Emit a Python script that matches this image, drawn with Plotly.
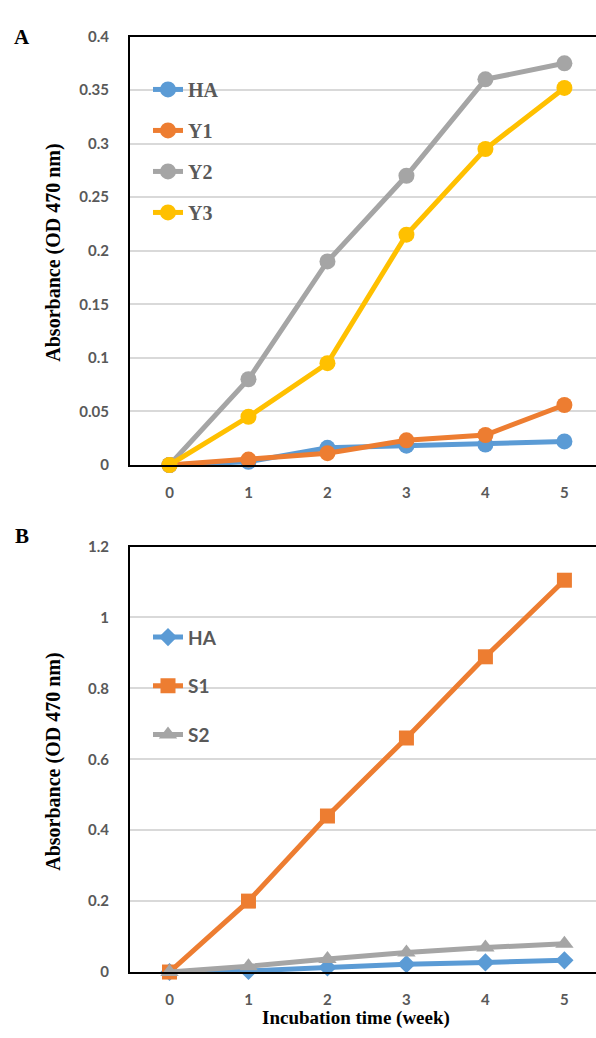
import plotly.graph_objects as go

weeks = [0, 1, 2, 3, 4, 5]
week_labels = ["0", "1", "2", "3", "4", "5"]

# Panel A
a_HA = [0, 0.003, 0.016, 0.018, 0.019, 0.022]
a_Y1 = [0, 0.005, 0.011, 0.023, 0.028, 0.056]
a_Y2 = [0, 0.080, 0.190, 0.270, 0.360, 0.375]
a_Y3 = [0, 0.045, 0.095, 0.215, 0.295, 0.352]
a_ticks = [0, 0.05, 0.1, 0.15, 0.2, 0.25, 0.3, 0.35, 0.4]
a_ticktext = ["0", "0.05", "0.1", "0.15", "0.2", "0.25", "0.3", "0.35", "0.4"]

# Panel B
b_HA = [0, 0.003, 0.013, 0.022, 0.027, 0.033]
b_S1 = [0, 0.200, 0.440, 0.660, 0.889, 1.105]
b_S2 = [0, 0.016, 0.037, 0.055, 0.069, 0.080]
b_ticks = [0, 0.2, 0.4, 0.6, 0.8, 1.0, 1.2]
b_ticktext = ["0", "0.2", "0.4", "0.6", "0.8", "1", "1.2"]

BLUE, ORANGE, GRAY, YELLOW = "#5B9BD5", "#ED7D31", "#A5A5A5", "#FFC000"
W, H = 596, 1038
def py(p):
    return 1 - p / H

fig = go.Figure()

def add(x, y, name, color, symbol, size, xa, ya, legend):
    fig.add_trace(go.Scatter(
        x=x, y=y, name=name, mode="lines+markers",
        line=dict(color=color, width=5),
        marker=dict(color=color, symbol=symbol, size=size),
        xaxis=xa, yaxis=ya, legend=legend, legendgroup=name + legend,
        cliponaxis=False))

add(weeks, a_HA, "HA", BLUE, "circle", 16, "x", "y", "legend")
add(weeks, a_Y1, "Y1", ORANGE, "circle", 16, "x", "y", "legend")
add(weeks, a_Y2, "Y2", GRAY, "circle", 16, "x", "y", "legend")
add(weeks, a_Y3, "Y3", YELLOW, "circle", 16, "x", "y", "legend")

add(weeks, b_HA, "HA", BLUE, "diamond", 14, "x2", "y2", "legend2")
add(weeks, b_S1, "S1", ORANGE, "square", 15, "x2", "y2", "legend2")
add(weeks, b_S2, "S2", GRAY, "triangle-up", 16, "x2", "y2", "legend2")

tickfont = dict(family="Lato, Open Sans, sans-serif", size=15, color="#595959",
                weight="bold")
xdom = [130 / W, 1.0]

xcommon = dict(range=[-0.5, 5.4], tickvals=weeks, ticktext=week_labels,
               showgrid=False, showline=True, linecolor="black", linewidth=2,
               mirror=True, tickfont=tickfont, ticks="", ticklabelstandoff=13,
               zeroline=False, fixedrange=True)
ycommon = dict(showgrid=True, gridcolor="#D9D9D9", gridwidth=2,
               showline=True, linecolor="black", linewidth=2,
               tickfont=tickfont, ticks="", ticklabelstandoff=16,
               zeroline=False, fixedrange=True)

fig.update_layout(
    width=W, height=H,
    margin=dict(l=0, r=0, t=0, b=0),
    paper_bgcolor="white", plot_bgcolor="white",
    xaxis=dict(domain=xdom, anchor="y", **xcommon),
    yaxis=dict(domain=[py(463), py(27)], anchor="x", range=[0, 0.4],
               tickvals=a_ticks, ticktext=a_ticktext, **ycommon),
    xaxis2=dict(domain=xdom, anchor="y2", **xcommon),
    yaxis2=dict(domain=[py(979), py(546)], anchor="x2", range=[0, 1.2],
                tickvals=b_ticks, ticktext=b_ticktext, **ycommon),
    legend=dict(x=148 / W, y=py(61), xanchor="left", yanchor="top",
                bgcolor="rgba(0,0,0,0)", tracegroupgap=12, itemwidth=30,
                font=dict(family="Liberation Serif, Times New Roman, serif",
                          size=20, color="#595959", weight="bold")),
    legend2=dict(x=148 / W, y=py(619), xanchor="left", yanchor="top",
                 bgcolor="rgba(0,0,0,0)", tracegroupgap=21, itemwidth=30,
                 font=dict(family="Lato, Open Sans, sans-serif",
                           size=19, color="#595959", weight="bold")),
    showlegend=True,
)

serif = dict(family="Liberation Serif, Times New Roman, serif", color="black", weight="bold")
ann = [
    dict(text="A", x=22 / W, y=py(27), font=dict(size=21, **serif)),
    dict(text="B", x=22 / W, y=py(535), font=dict(size=21, **serif)),
    dict(text="Absorbance (OD 470 nm)", x=54 / W, y=py(247), textangle=-90,
         font=dict(size=20, **serif)),
    dict(text="Absorbance (OD 470 nm)", x=54 / W, y=py(765), textangle=-90,
         font=dict(size=20, **serif)),
    dict(text="Incubation time (week)", x=356 / W, y=py(1026),
         font=dict(size=19, **serif)),
]
for a in ann:
    a.update(xref="paper", yref="paper", showarrow=False,
             xanchor="center", yanchor="middle")
fig.update_layout(annotations=ann)

fig.write_html("out.html", config={"displayModeBar": False},
               post_script="document.body.style.margin='0';")
